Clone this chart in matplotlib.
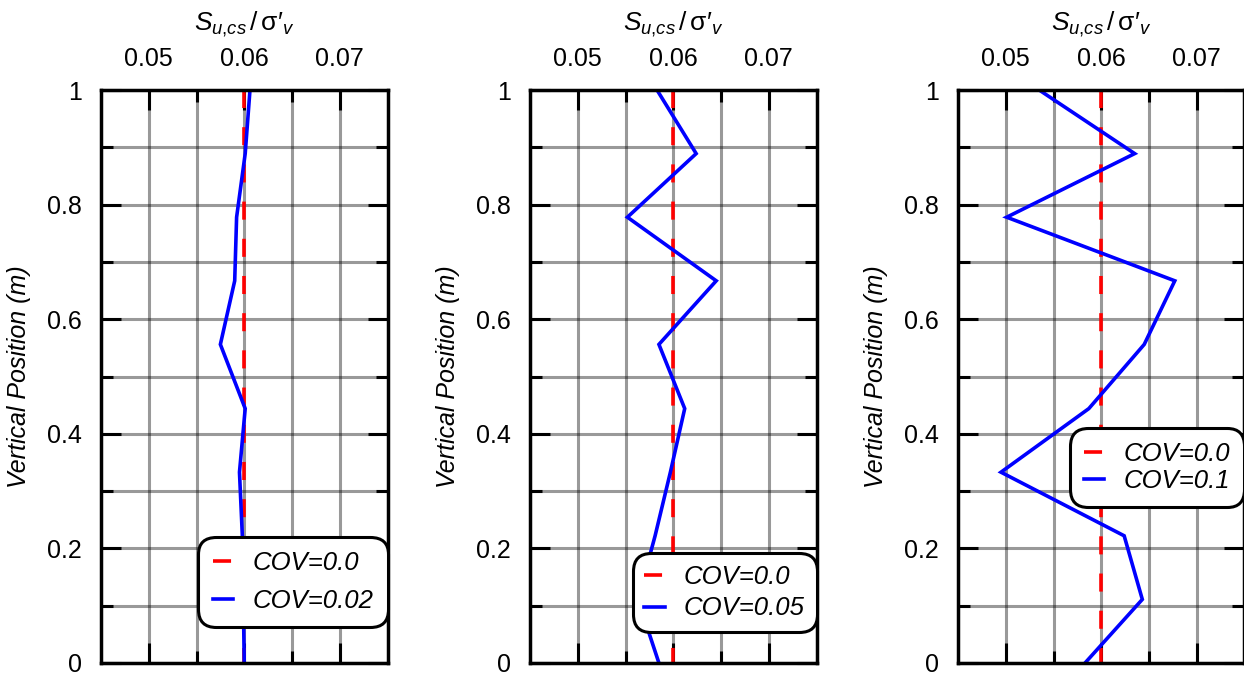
import matplotlib
matplotlib.use("Agg")
import matplotlib.pyplot as plt
from matplotlib.ticker import FixedLocator, FuncFormatter

plt.rcParams['font.family'] = ['Liberation Sans', 'DejaVu Sans']
plt.rcParams['mathtext.fontset'] = 'custom'
plt.rcParams['mathtext.rm'] = 'Liberation Sans'
plt.rcParams['mathtext.it'] = 'Liberation Sans:italic'
plt.rcParams['mathtext.bf'] = 'Liberation Sans:bold'

# Vertical position of the nodes (m)
depth = [1.0, 0.889, 0.778, 0.667, 0.556, 0.444, 0.333, 0.222, 0.111, 0.0]

# Deterministic strength ratio (COV = 0)
mean_ratio = 0.06
mean_label = "COV=0.0"

# Random-field realisations of Su,cs / sigma'v
cov_labels = ["COV=0.02", "COV=0.05", "COV=0.1"]
ratio_cov002 = [0.0606, 0.0601, 0.0592, 0.0590, 0.0575, 0.0601, 0.0595, 0.0598, 0.0599, 0.0600]
ratio_cov005 = [0.0583, 0.0624, 0.0552, 0.0645, 0.0585, 0.0612, 0.0597, 0.0581, 0.0563, 0.0585]
ratio_cov01 = [0.0535, 0.0635, 0.0501, 0.0677, 0.0645, 0.0587, 0.0495, 0.0624, 0.0643, 0.0583]
series = [ratio_cov002, ratio_cov005, ratio_cov01]

x_major = [0.05, 0.06, 0.07]
x_minor = [0.055, 0.065]
y_major = [0.0, 0.2, 0.4, 0.6, 0.8, 1.0]
y_minor = [0.1, 0.3, 0.5, 0.7, 0.9]

W, H = 1244, 673
fig = plt.figure(figsize=(W / 100, H / 100), dpi=100)

# panel placement in pixels, legend anchor (axes fraction), legend spacing
panel_left = [101, 530, 958]
legend_anchor = [(1.0, 0.063), (1.0, 0.054), (1.0, 0.272)]
legend_spacing = [0.55, 0.3, 0.1]
legend_pad = [0.55, 0.45, 0.55]
ax_w, ax_h, ax_b = 286.5, 573, 10

PRIME = "\u2032"
xlabel = r"$\mathit{S}_{\mathit{u{,}cs}}\,/\,\mathrm{\sigma" + PRIME + r"}_{\mathit{v}}$"

for i, vals in enumerate(series):
    ax = fig.add_axes([panel_left[i] / W, ax_b / H, ax_w / W, ax_h / H])
    ax.set_xlim(0.045, 0.075)
    ax.set_ylim(0, 1)

    red, = ax.plot([mean_ratio] * len(depth), depth, color='#ff0000', lw=2.6,
                   dashes=(5, 5.3), zorder=3)
    blue, = ax.plot(vals, depth, color='#0000ff', lw=2.6, zorder=4,
                    solid_joinstyle='miter')

    ax.xaxis.set_major_locator(FixedLocator(x_major))
    ax.xaxis.set_minor_locator(FixedLocator(x_minor))
    ax.yaxis.set_major_locator(FixedLocator(y_major))
    ax.yaxis.set_minor_locator(FixedLocator(y_minor))
    ax.xaxis.set_major_formatter(FuncFormatter(lambda v, p: f"{v:.2f}"))
    ax.yaxis.set_major_formatter(FuncFormatter(lambda v, p: f"{v:g}"))

    ax.tick_params(which='both', direction='in', top=True, bottom=True,
                   left=True, right=True, labeltop=True, labelbottom=False,
                   width=2.2, color='k', labelsize=18, pad=14)
    ax.tick_params(which='major', length=14.4)
    ax.tick_params(which='minor', length=8.6)

    ax.grid(True, which='both', color='k', alpha=0.4, lw=2.2)
    ax.set_axisbelow(True)
    for s in ax.spines.values():
        s.set_linewidth(2.5)
        s.set_zorder(5)

    ax.xaxis.set_label_position('top')
    ax.set_xlabel(xlabel, fontsize=19, labelpad=12)
    ax.set_ylabel("Vertical Position (m)", fontsize=18, style='italic', labelpad=11)

    leg = ax.legend([red, blue], [mean_label, cov_labels[i]], loc='lower right',
                    bbox_to_anchor=legend_anchor[i], borderaxespad=0,
                    prop={'size': 18.5, 'style': 'italic'}, handlelength=0.8,
                    handletextpad=0.75, labelspacing=legend_spacing[i],
                    borderpad=legend_pad[i], fancybox=True, framealpha=1,
                    edgecolor='k')
    leg.get_frame().set_linewidth(2.2)
    leg.get_frame().set_boxstyle('round', pad=0, rounding_size=0.7)
    leg.set_zorder(10)

fig.savefig("out.png", dpi=100)
